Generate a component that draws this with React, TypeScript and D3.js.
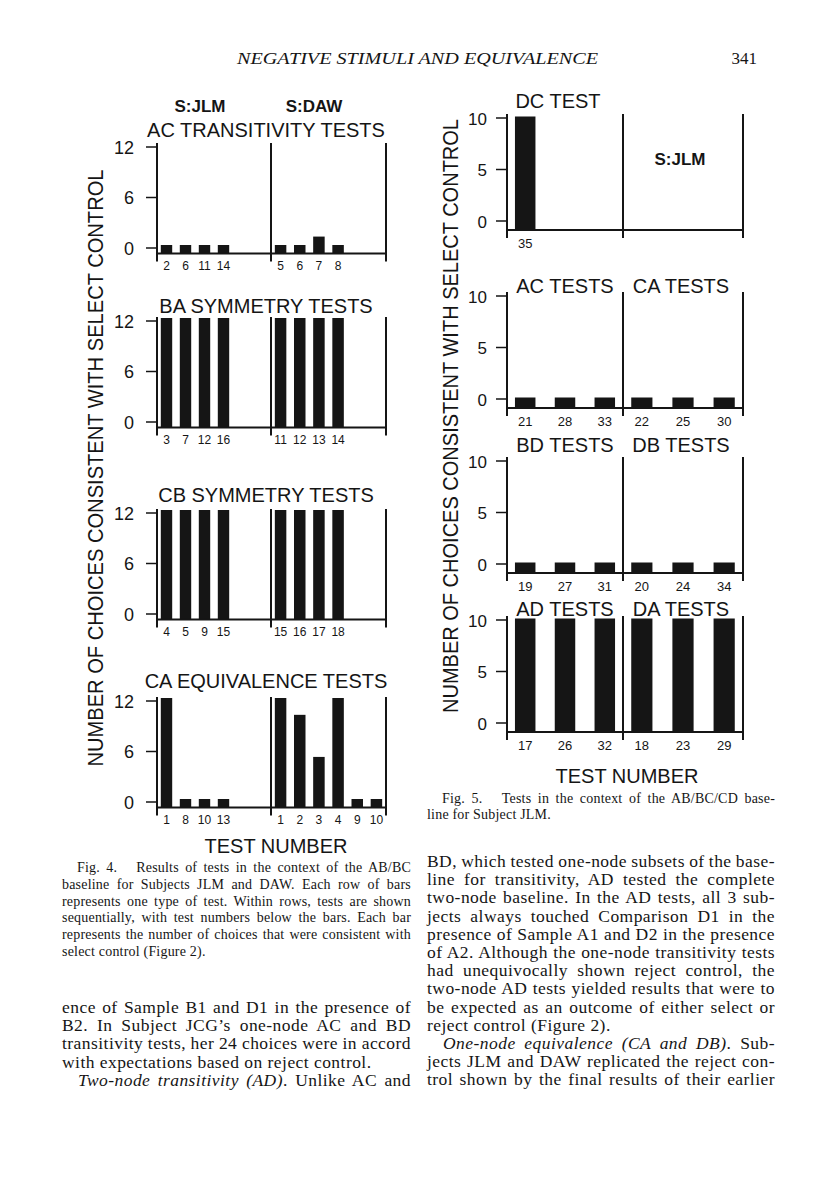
import React, { useLayoutEffect, useRef } from "react";
import * as d3 from "d3";

const SANS = "'Liberation Sans', Arial, Helvetica, sans-serif";
const SERIF = "'Liberation Serif', 'Times New Roman', Times, serif";
const INK = "#151515";

// Fig. 4: subjects JLM and DAW, AB/BC baseline
const fig4Titles = ["AC TRANSITIVITY TESTS", "BA SYMMETRY TESTS", "CB SYMMETRY TESTS", "CA EQUIVALENCE TESTS"];
const jlmTests = [[2, 6, 11, 14], [3, 7, 12, 16], [4, 5, 9, 15], [1, 8, 10, 13]];
const jlmChoices = [[0, 0, 0, 0], [12, 12, 12, 12], [12, 12, 12, 12], [12, 0, 0, 0]];
const dawTests = [[5, 6, 7, 8], [11, 12, 13, 14], [15, 16, 17, 18], [1, 2, 3, 4, 9, 10]];
const dawChoices = [[0, 0, 1, 0], [12, 12, 12, 12], [12, 12, 12, 12], [12, 10, 5, 12, 0, 0]];
const fig4Ticks = [0, 6, 12];

// Fig. 5: subject JLM, AB/BC/CD baseline
const fig5LeftTitles = ["DC TEST", "AC TESTS", "BD TESTS", "AD TESTS"];
const fig5RightTitles = ["", "CA TESTS", "DB TESTS", "DA TESTS"];
const fig5LeftTests = [[35], [21, 28, 33], [19, 27, 31], [17, 26, 32]];
const fig5LeftChoices = [[10], [0, 0, 0], [0, 0, 0], [10, 10, 10]];
const fig5RightTests = [[], [22, 25, 30], [20, 24, 34], [18, 23, 29]];
const fig5RightChoices = [[], [0, 0, 0], [0, 0, 0], [10, 10, 10]];
const fig5Ticks = [0, 5, 10];

const yTitle = "NUMBER OF CHOICES CONSISTENT WITH SELECT CONTROL";

const fig4Caption = [
  "Fig. 4.   Results of tests in the context of the AB/BC",
  "baseline for Subjects JLM and DAW. Each row of bars",
  "represents one type of test. Within rows, tests are shown",
  "sequentially, with test numbers below the bars. Each bar",
  "represents the number of choices that were consistent with",
  "select control (Figure 2).",
];
const fig5Caption = ["Fig. 5.   Tests in the context of the AB/BC/CD base-", "line for Subject JLM."];
const leftBody = [
  "ence of Sample B1 and D1 in the presence of",
  "B2. In Subject JCG\u2019s one-node AC and BD",
  "transitivity tests, her 24 choices were in accord",
  "with expectations based on reject control.",
  "*Two-node transitivity (AD)*. Unlike AC and",
];
const rightBody = [
  "BD, which tested one-node subsets of the base-",
  "line for transitivity, AD tested the complete",
  "two-node baseline. In the AD tests, all 3 sub-",
  "jects always touched Comparison D1 in the",
  "presence of Sample A1 and D2 in the presence",
  "of A2. Although the one-node transitivity tests",
  "had unequivocally shown reject control, the",
  "two-node AD tests yielded results that were to",
  "be expected as an outcome of either select or",
  "reject control (Figure 2).",
  "*One-node equivalence (CA and DB)*. Sub-",
  "jects JLM and DAW replicated the reject con-",
  "trol shown by the final results of their earlier",
];

// layout
const F4 = { axis: 157, sep: 271, right: 386, h: 101, drop: 5.5, stub: 3 };
const fig4Top = [147, 321, 513, 701];
const fig4TitleY = [137, 313, 502, 688];
const F5 = { axis: 507, sep: 623, right: 743, h: 103, drop: 9, stub: 1.5 };
const fig5Top = [118, 296, 461, 620];
const fig5TitleY = [108, 293, 452, 616];

function Bars({ x0, x1, slots, tests, values, y, base, stub, labelY, labelSize, inner, outer }: any) {
  const x = d3.scaleBand<number>().domain(d3.range(slots)).range([x0, x1]).paddingInner(inner).paddingOuter(outer);
  const bw = x.bandwidth();
  return (
    <g>
      {values.map((v: number, i: number) => {
        const top = y(v) - stub;
        return <rect key={i} x={x(i)} y={top} width={bw} height={base - top} fill={INK} />;
      })}
      {tests.map((t: number, i: number) => (
        <text key={"l" + i} x={x(i)! + bw / 2} y={labelY} fontSize={labelSize} textAnchor="middle">
          {t}
        </text>
      ))}
    </g>
  );
}

function Frame({ L, top, base, y, ticks, tickSize, labelGap }: any) {
  return (
    <g>
      <line x1={L.axis} x2={L.right} y1={base} y2={base} stroke={INK} strokeWidth={2} />
      {[L.axis, L.sep, L.right].map((x: number) => (
        <line key={x} x1={x} x2={x} y1={top - 4} y2={base + 8} stroke={INK} strokeWidth={2} />
      ))}
      {ticks.map((t: number) => (
        <g key={t}>
          <line x1={L.axis - 11} x2={L.axis} y1={y(t)} y2={y(t)} stroke={INK} strokeWidth={1.5} />
          <text x={L.axis - labelGap} y={y(t) + 6.5} textAnchor="end" fontSize={tickSize}>
            {t}
          </text>
        </g>
      ))}
    </g>
  );
}

function Fig4Panel({ i }: { i: number }) {
  const top = fig4Top[i];
  const y = d3.scaleLinear().domain([0, 12]).range([top + F4.h, top]);
  const base = y(0) + F4.drop;
  const common = { slots: 6, y, base, stub: F4.stub, labelY: base + 16, labelSize: 12, inner: 0.4, outer: 0.2 };
  return (
    <g>
      <text x={266} y={fig4TitleY[i]} textAnchor="middle" fontSize={20}>
        {fig4Titles[i]}
      </text>
      <Bars x0={F4.axis} x1={F4.sep} tests={jlmTests[i]} values={jlmChoices[i]} {...common} />
      <Bars x0={F4.sep} x1={F4.right} tests={dawTests[i]} values={dawChoices[i]} {...common} />
      <Frame L={F4} top={top} base={base} y={y} ticks={fig4Ticks} tickSize={18} labelGap={23} />
    </g>
  );
}

function Fig5Panel({ i }: { i: number }) {
  const top = fig5Top[i];
  const y = d3.scaleLinear().domain([0, 10]).range([top + F5.h, top]);
  const base = y(0) + F5.drop;
  const common = { slots: 3, y, base, stub: F5.stub, labelY: base + 18, labelSize: 13, inner: 0.485, outer: 0.2 };
  return (
    <g>
      <text x={i === 0 ? 558 : 565} y={fig5TitleY[i]} textAnchor="middle" fontSize={20}>
        {fig5LeftTitles[i]}
      </text>
      <text x={681} y={fig5TitleY[i]} textAnchor="middle" fontSize={20}>
        {fig5RightTitles[i]}
      </text>
      <Bars x0={F5.axis} x1={F5.sep} tests={fig5LeftTests[i]} values={fig5LeftChoices[i]} {...common} />
      <Bars x0={F5.sep} x1={F5.right} tests={fig5RightTests[i]} values={fig5RightChoices[i]} {...common} />
      <Frame L={F5} top={top} base={base} y={y} ticks={fig5Ticks} tickSize={17} labelGap={20} />
    </g>
  );
}

// one line of justified page text; *...* marks italics
function JLine({ x, y, right, justify, size, spacing, text }: any) {
  const ref = useRef<SVGTextElement>(null);
  useLayoutEffect(() => {
    const el = ref.current;
    if (!el || !justify) return;
    el.style.wordSpacing = "0px";
    const len = el.getComputedTextLength();
    const gaps = text.replace(/\*/g, "").split(" ").length - 1;
    if (gaps > 0) el.style.wordSpacing = `${(right - x - len) / gaps}px`;
  }, [text, x, right, justify]);
  return (
    <text ref={ref} x={x} y={y} fontSize={size} letterSpacing={spacing} style={{ whiteSpace: "pre" }}>
      {text.split("*").map((p: string, k: number) => (
        <tspan key={k} fontStyle={k % 2 ? "italic" : "normal"}>
          {p}
        </tspan>
      ))}
    </text>
  );
}

export default function App() {
  return (
    <svg
      width={816}
      height={1193}
      viewBox="0 0 816 1193"
      style={{ position: "absolute", left: 0, top: 0, background: "#fff" }}
    >
      <rect width={816} height={1193} fill="#fff" />

      {/* running head */}
      <g fontFamily={SERIF} fill={INK}>
        <text x={237} y={64} fontSize={17} fontStyle="italic" textLength={361} lengthAdjust="spacingAndGlyphs">
          NEGATIVE STIMULI AND EQUIVALENCE
        </text>
        <text x={757} y={64} fontSize={17} textAnchor="end">
          341
        </text>
      </g>

      {/* Fig. 4 */}
      <g fontFamily={SANS} fill={INK}>
        <text x={200} y={111.5} fontSize={17} fontWeight="bold" textAnchor="middle">
          S:JLM
        </text>
        <text x={314} y={111.5} fontSize={17} fontWeight="bold" textAnchor="middle">
          S:DAW
        </text>
        <text
          transform="translate(103,468) rotate(-90)"
          fontSize={22}
          textAnchor="middle"
          textLength={597}
          lengthAdjust="spacingAndGlyphs"
        >
          {yTitle}
        </text>
        {fig4Titles.map((_, i) => (
          <Fig4Panel key={i} i={i} />
        ))}
        <text x={276} y={853} fontSize={20} textAnchor="middle">
          TEST NUMBER
        </text>
      </g>

      {/* Fig. 5 */}
      <g fontFamily={SANS} fill={INK}>
        <text
          transform="translate(458,416) rotate(-90)"
          fontSize={22}
          textAnchor="middle"
          textLength={594}
          lengthAdjust="spacingAndGlyphs"
        >
          {yTitle}
        </text>
        {fig5LeftTitles.map((_, i) => (
          <Fig5Panel key={i} i={i} />
        ))}
        <text x={680} y={165} fontSize={17} fontWeight="bold" textAnchor="middle">
          S:JLM
        </text>
        <text x={627} y={783} fontSize={20} textAnchor="middle">
          TEST NUMBER
        </text>
      </g>

      {/* captions and body text */}
      <g fontFamily={SERIF} fill={INK}>
        {fig4Caption.map((t, i) => (
          <JLine
            key={"c4" + i}
            x={i === 0 ? 77 : 62}
            y={872 + i * 16.8}
            right={411}
            justify={i < fig4Caption.length - 1}
            size={14}
            spacing={0.2}
            text={t}
          />
        ))}
        {fig5Caption.map((t, i) => (
          <JLine
            key={"c5" + i}
            x={i === 0 ? 442 : 427}
            y={803 + i * 15.5}
            right={775}
            justify={i === 0}
            size={14}
            spacing={0.2}
            text={t}
          />
        ))}
        {leftBody.map((t, i) => (
          <JLine
            key={"lb" + i}
            x={i === 4 ? 78 : 62}
            y={1013 + i * 18.2}
            right={411}
            justify={i !== 3}
            size={17.5}
            spacing={0.45}
            text={t}
          />
        ))}
        {rightBody.map((t, i) => (
          <JLine
            key={"rb" + i}
            x={i === 10 ? 443 : 427}
            y={867 + i * 18.2}
            right={775}
            justify={i !== 9}
            size={17.5}
            spacing={0.45}
            text={t}
          />
        ))}
      </g>
    </svg>
  );
}
